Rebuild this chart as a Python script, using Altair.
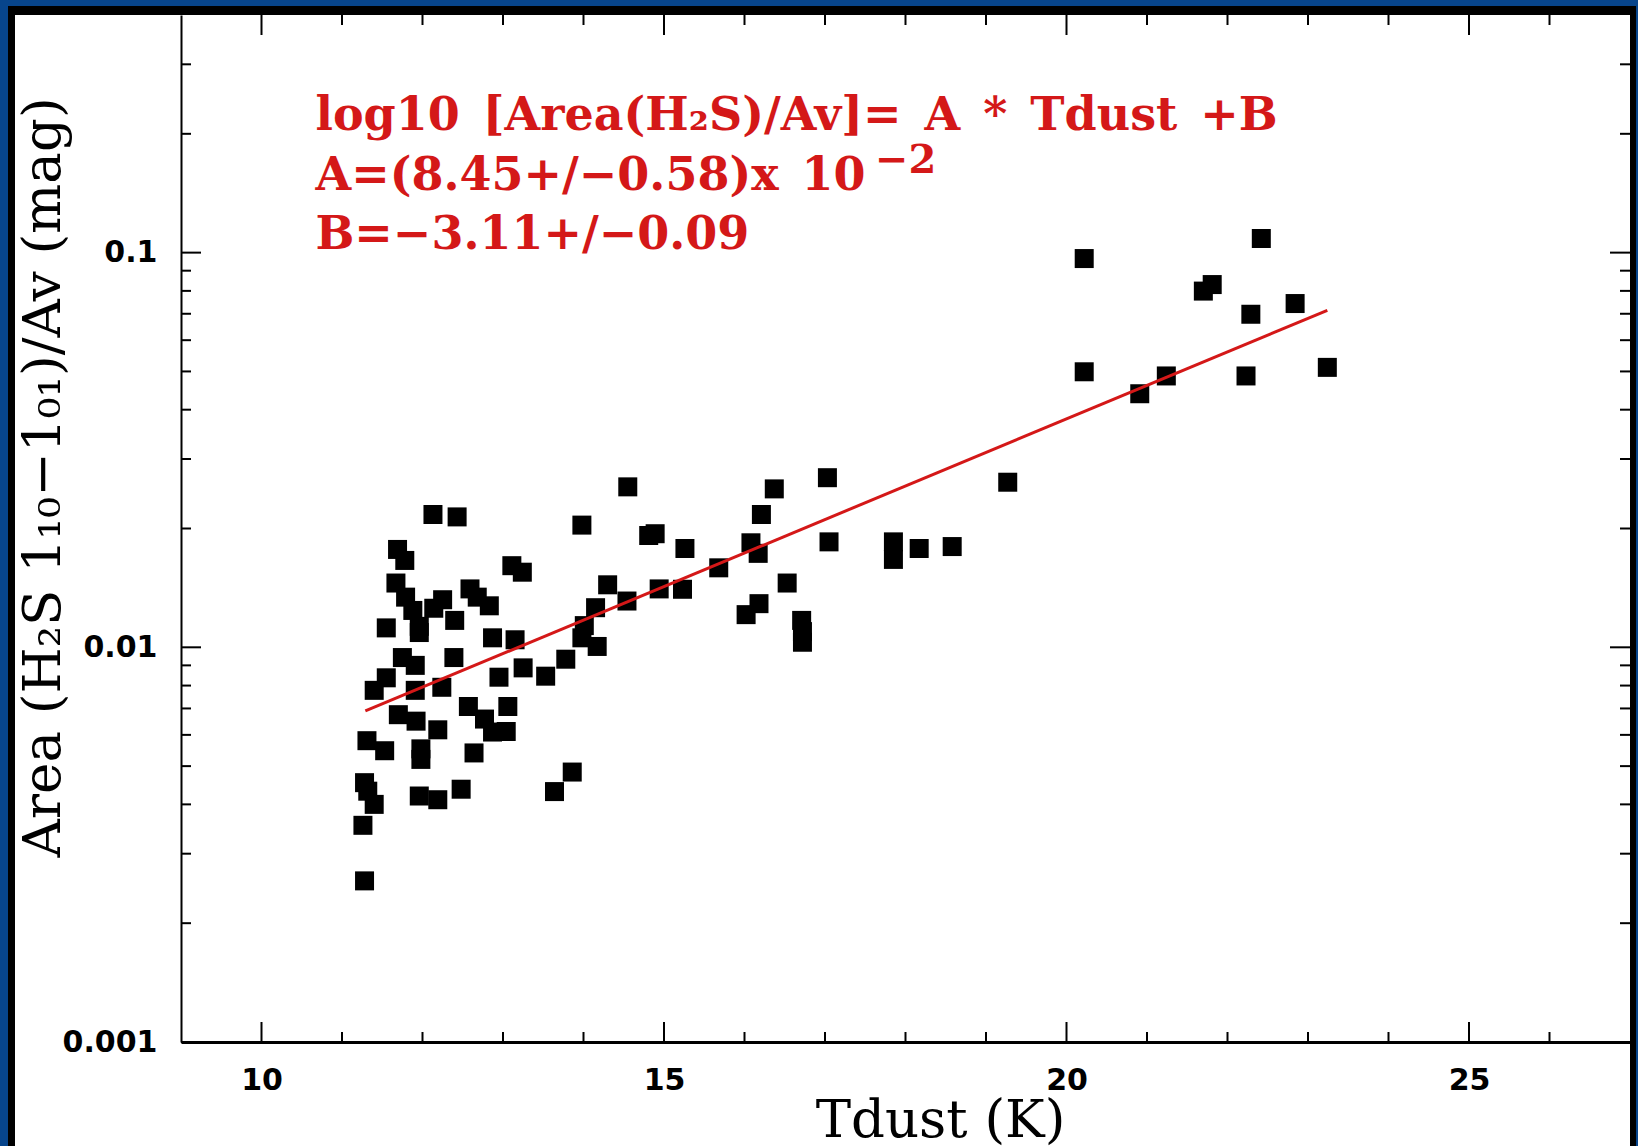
import altair as alt
import pandas as pd

# ---- data ----
tdust = [20.22, 22.42, 21.70, 21.81, 22.29, 22.84, 20.22, 21.24, 20.91, 22.23,
         23.24, 19.27, 17.03, 16.37, 16.21, 16.08, 16.17, 17.05, 17.85, 17.85,
         18.17, 18.58, 16.53, 16.18, 16.02, 16.71, 16.72, 16.72, 14.55, 13.98,
         14.81, 14.89, 15.26, 14.30, 14.15, 14.54, 14.94, 15.23, 15.68, 14.01,
         13.98, 14.17, 13.78, 13.53, 13.86, 13.64, 12.13, 12.43, 11.69, 11.78,
         11.67, 11.79, 11.88, 11.96, 11.96, 12.14, 12.25, 12.40, 12.59, 12.68,
         12.83, 13.11, 13.24, 11.55, 12.87, 13.15, 11.75, 11.91, 12.39, 11.55,
         11.40, 11.91, 12.24, 12.95, 13.25, 11.70, 11.92, 12.19, 11.31, 11.53,
         11.98, 11.98, 12.57, 12.77, 12.87, 13.06, 13.04, 12.64, 11.28, 11.32,
         11.40, 11.26, 11.96, 12.19, 12.48, 11.28]
area = [0.0966, 0.1086, 0.0799, 0.0830, 0.0698, 0.0743, 0.0499, 0.0487, 0.0439, 0.0487,
        0.0512, 0.0262, 0.0269, 0.0252, 0.0217, 0.0184, 0.0173, 0.0185, 0.0185, 0.0167,
        0.0178, 0.0180, 0.01455, 0.0129, 0.0121, 0.0117, 0.01096, 0.0103, 0.0255, 0.0204,
        0.0192, 0.0194, 0.0178, 0.0144, 0.0126, 0.0131, 0.01406, 0.01403, 0.0159, 0.01135,
        0.01057, 0.01005, 0.00933, 0.00845, 0.00483, 0.00431, 0.0217, 0.0214, 0.0177, 0.0166,
        0.01455, 0.0134, 0.0124, 0.0113, 0.0109, 0.01256, 0.0132, 0.0117, 0.01406, 0.0134,
        0.01274, 0.0161, 0.0155, 0.0112, 0.01057, 0.01045, 0.00942, 0.0090, 0.00942, 0.00837,
        0.00778, 0.00778, 0.00792, 0.0084, 0.00887, 0.00675, 0.0065, 0.00618, 0.0058, 0.00547,
        0.00553, 0.0052, 0.00708, 0.00658, 0.0061, 0.00708, 0.00612, 0.0054, 0.00454, 0.00432,
        0.0040, 0.00354, 0.0042, 0.00411, 0.00437, 0.00256]

fit_t = [11.29, 23.24]
fit_area = [0.0069, 0.0714]

x_major = [10, 15, 20, 25]
x_minor = [11, 12, 13, 14, 16, 17, 18, 19, 21, 22, 23, 24, 26]
y_major = [0.001, 0.01, 0.1]
y_minor = [0.002, 0.003, 0.004, 0.005, 0.006, 0.007, 0.008, 0.009,
           0.02, 0.03, 0.04, 0.05, 0.06, 0.07, 0.08, 0.09, 0.2, 0.3]

ann_lines = ["log10\u2002[Area(H\u2082S)/Av]=\u2002A\u2002*\u2002Tdust\u2002+B",
             "A=(8.45+/\u22120.58)x\u200210",
             "B=\u22123.11+/\u22120.09"]
ann_t = [10.67, 10.67, 10.67]
ann_a = [0.205, 0.144, 0.102]
sup_text = ["\u22122"]
sup_t = [17.62]
sup_a = [0.159]

# ---- layout ----
W, H = 1449, 1027
RED = "#d41818"
xs = alt.Scale(domain=[9, 27], nice=False, zero=False)
ys = alt.Scale(type="log", domain=[0.001, 0.4], nice=False)

x_axis = alt.Axis(values=x_major, ticks=False, grid=False, domain=True,
                  domainColor="black", domainWidth=3, format="d",
                  labelFont="DejaVu Sans", labelFontWeight="bold", labelFontSize=30,
                  labelColor="black", labelPadding=47, labelBaseline="alphabetic",
                  labelFlush=False, labelOverlap=False,
                  title="Tdust (K)", titleFont="DejaVu Serif", titleFontSize=53,
                  titleFontWeight="normal", titleColor="black", titleX=759, titleY=94,
                  titleAlign="center", titleBaseline="alphabetic", zindex=1)
y_axis = alt.Axis(values=y_major, ticks=False, grid=False, domain=True,
                  domainColor="black", domainWidth=2, format="~g",
                  labelFont="DejaVu Sans", labelFontWeight="bold", labelFontSize=30,
                  labelColor="black", labelPadding=24, labelBaseline="middle",
                  labelFlush=False, labelOverlap=False,
                  title="Area (H\u2082S 1\u2081\u2080\u22121\u2080\u2081)/Av (mag)",
                  titleFont="DejaVu Serif", titleFontSize=53, titleFontWeight="normal",
                  titleColor="black", titleAngle=270, titleX=-122, titleY=462,
                  titleAlign="center", titleBaseline="alphabetic", zindex=1)

one = pd.DataFrame({"k": [0]})
black_panel = alt.Chart(one).mark_rect(color="black").encode(
    x=alt.value(-173), x2=alt.value(1455), y=alt.value(-9), y2=alt.value(1131))
white_panel = alt.Chart(one).mark_rect(color="white").encode(
    x=alt.value(-166), x2=alt.value(1449), y=alt.value(0), y2=alt.value(1131))

pts = pd.DataFrame({"tdust": tdust, "area": area})
points = alt.Chart(pts).mark_square(size=361, color="black", opacity=1).encode(
    x=alt.X("tdust:Q", scale=xs, axis=x_axis),
    y=alt.Y("area:Q", scale=ys, axis=y_axis))

fit = alt.Chart(pd.DataFrame({"tdust": fit_t, "area": fit_area})).mark_line(
    color=RED, strokeWidth=3).encode(
    x=alt.X("tdust:Q", scale=xs, axis=x_axis),
    y=alt.Y("area:Q", scale=ys, axis=y_axis))

def yticks(vals, x0, x1):
    return alt.Chart(pd.DataFrame({"area": vals})).mark_rule(
        color="black", strokeWidth=2).encode(
        y=alt.Y("area:Q", scale=ys, axis=y_axis), x=alt.value(x0), x2=alt.value(x1))

def xticks(vals, y0, y1):
    return alt.Chart(pd.DataFrame({"tdust": vals})).mark_rule(
        color="black", strokeWidth=2).encode(
        x=alt.X("tdust:Q", scale=xs, axis=x_axis), y=alt.value(y0), y2=alt.value(y1))

ticks = [
    yticks(y_major, 0, 20), yticks(y_minor, 0, 10),
    yticks(y_major, W, W - 20), yticks(y_minor, W, W - 10),
    xticks(x_major, H, H - 20), xticks(x_minor, H, H - 10),
    xticks(x_major, 0, 20), xticks(x_minor, 0, 10),
]

ann = alt.Chart(pd.DataFrame({"tdust": ann_t, "area": ann_a, "txt": ann_lines})).mark_text(
    align="left", baseline="alphabetic", font="DejaVu Serif", fontSize=46,
    fontWeight="bold", color=RED).encode(
    x=alt.X("tdust:Q", scale=xs, axis=x_axis),
    y=alt.Y("area:Q", scale=ys, axis=y_axis),
    text="txt:N")
sup = alt.Chart(pd.DataFrame({"tdust": sup_t, "area": sup_a, "txt": sup_text})).mark_text(
    align="left", baseline="alphabetic", font="DejaVu Serif", fontSize=40,
    fontWeight="bold", color=RED).encode(
    x=alt.X("tdust:Q", scale=xs, axis=x_axis),
    y=alt.Y("area:Q", scale=ys, axis=y_axis),
    text="txt:N")

chart = alt.layer(black_panel, white_panel, *ticks, points, fit, ann, sup).properties(
    width=W, height=H,
    padding={"left": 181, "top": 15, "right": 8, "bottom": 104},
    autosize=alt.AutoSizeParams(type="none"),
    background="#07458c",
).configure_view(stroke=None)

chart.save("out.html", embed_options={"renderer": "svg", "actions": False})
